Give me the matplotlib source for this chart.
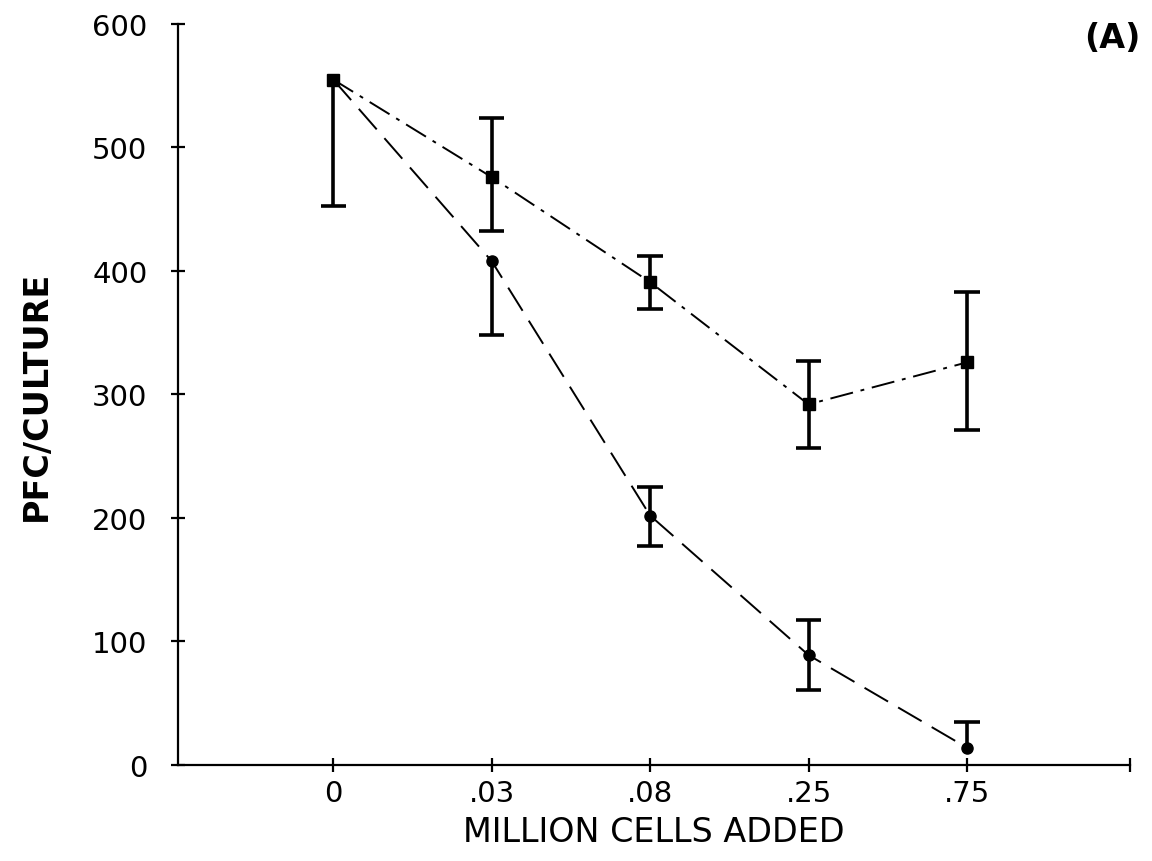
import matplotlib
matplotlib.use("Agg")
import matplotlib.pyplot as plt
import numpy as np

categories = ["0", ".03", ".08", ".25", ".75"]
# Series A (dash-dot line, square markers)
a_vals = [555, 476, 391, 292, 326]
a_err_lo = [102, 44, 22, 35, 55]
a_err_hi = [0, 48, 21, 35, 57]
# Series B (dashed line, round markers)
b_vals = [555, 408, 202, 89, 14]
b_err_lo = [0, 60, 25, 28, 0]
b_err_hi = [0, 0, 23, 28, 21]
y_ticks = [0, 100, 200, 300, 400, 500, 600]

fig = plt.figure(figsize=(11.52, 8.62), dpi=100)
ax = fig.add_axes([0.1545, 0.1114, 0.9810 - 0.1545, 0.971 - 0.1114])

x = np.arange(len(categories))
CAP = 0.08  # cap half width in x-data units


def draw_err(xs, vals, lo, hi):
    for xi, v, l, h in zip(xs, vals, lo, hi):
        if l > 0 or h > 0:
            ax.vlines(xi, v - l, v + h, color="black", lw=2.6, zorder=2)
        if l > 0:
            ax.hlines(v - l, xi - CAP, xi + CAP, color="black", lw=2.6, zorder=2)
        if h > 0:
            ax.hlines(v + h, xi - CAP, xi + CAP, color="black", lw=2.6, zorder=2)


ax.plot(x, a_vals, color="black", lw=1.4, linestyle=(0, (12, 4, 2, 4)),
        marker="s", markersize=8, zorder=3)
draw_err(x, a_vals, a_err_lo, a_err_hi)

ax.plot(x, b_vals, color="black", lw=1.4, linestyle=(0, (14, 6)),
        marker="o", markersize=8, zorder=3)
draw_err(x, b_vals, b_err_lo, b_err_hi)

ax.set_xlim(-0.98, 5.03)
ax.set_ylim(0, 600)
ax.set_xticks(x)
ax.set_xticklabels(categories)
ax.set_xticks([5.03], minor=True)
ax.set_yticks(y_ticks)
ax.set_yticklabels([str(v) for v in y_ticks])

for s in ["top", "right"]:
    ax.spines[s].set_visible(False)
for s in ["left", "bottom"]:
    ax.spines[s].set_linewidth(1.6)

ax.tick_params(axis="both", which="both", direction="inout", length=10,
               width=1.6, labelsize=21)
ax.tick_params(axis="y", pad=17)
ax.tick_params(axis="x", pad=5)

ax.set_xlabel("MILLION CELLS ADDED", fontsize=24, labelpad=6)
ax.set_ylabel("PFC/CULTURE", fontsize=24, fontweight="bold", labelpad=28)

fig.text(0.990, 0.955, "(A)", fontsize=24, fontweight="bold",
         ha="right", va="center")

fig.savefig("out.png", dpi=100)
